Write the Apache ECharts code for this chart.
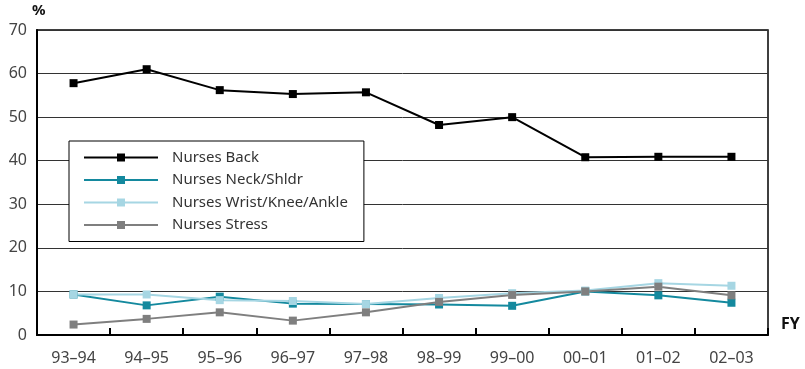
<!DOCTYPE html>
<html>
<head>
<meta charset="utf-8">
<script src="https://cdn.jsdelivr.net/npm/echarts@6/dist/echarts.min.js"></script>
<style>
  html, body { margin: 0; padding: 0; background: #fff; }
  #chart { width: 805px; height: 369px; }
</style>
</head>
<body>
<div id="chart"></div>
<script>
// Financial years on the category axis
const years = ['93–94', '94–95', '95–96', '96–97', '97–98', '98–99', '99–00', '00–01', '01–02', '02–03'];

// Percentages per injury type
const nursesBack = [57.8, 61.0, 56.2, 55.3, 55.7, 48.2, 50.0, 40.8, 40.9, 40.9];
const nursesNeckShldr = [9.3, 6.8, 8.8, 7.2, 7.1, 7.0, 6.7, 10.0, 9.1, 7.4];
const nursesWristKneeAnkle = [9.3, 9.3, 8.0, 7.8, 7.1, 8.5, 9.6, 10.2, 11.9, 11.3];
const nursesStress = [2.4, 3.7, 5.2, 3.3, 5.2, 7.6, 9.2, 10.0, 11.1, 9.1];

// Value axis ticks
const yTicks = [0, 10, 20, 30, 40, 50, 60, 70];

const FONT = '"Noto Sans", "Open Sans", sans-serif';

function lineSeries(name, data, color) {
  return {
    name: name,
    type: 'line',
    data: data,
    symbol: 'rect',
    symbolSize: 8,
    showSymbol: true,
    lineStyle: { color: color, width: 2 },
    itemStyle: { color: color },
    emphasis: { disabled: true },
    animation: false
  };
}

const chart = echarts.init(document.getElementById('chart'), null, { renderer: 'canvas' });

chart.setOption({
  animation: false,
  backgroundColor: '#fff',
  grid: {
    left: 37, right: 37, top: 30, bottom: 34,
    show: true, borderColor: '#000', borderWidth: 1.5, backgroundColor: 'transparent'
  },
  legend: {
    orient: 'vertical',
    left: 69, top: 141,
    padding: [9, 16, 9, 14],
    itemWidth: 74,
    itemHeight: 10,
    itemGap: 7.5,
    backgroundColor: '#fff',
    borderColor: '#000',
    borderWidth: 1,
    textStyle: { fontFamily: FONT, fontSize: 15, color: '#333', padding: [0, 0, 0, 9] },
    data: ['Nurses Back', 'Nurses Neck/Shldr', 'Nurses Wrist/Knee/Ankle', 'Nurses Stress']
  },
  xAxis: {
    type: 'category',
    data: years,
    boundaryGap: true,
    axisLine: { lineStyle: { color: '#000', width: 2 } },
    axisTick: { show: true, inside: true, length: 7, lineStyle: { color: '#000', width: 2 } },
    axisLabel: { fontFamily: FONT, fontSize: 16, color: '#444', margin: 15 }
  },
  yAxis: {
    type: 'value',
    min: yTicks[0],
    max: yTicks[yTicks.length - 1],
    interval: 10,
    axisLine: { show: true, lineStyle: { color: '#000', width: 2 } },
    axisTick: { show: false },
    axisLabel: { fontFamily: FONT, fontSize: 16, color: '#444', margin: 10 },
    splitLine: { lineStyle: { color: '#333', width: 1 } }
  },
  graphic: [
    { type: 'text', left: 32, top: 3, style: { text: '%', font: 'bold 15px ' + FONT, fill: '#111' } },
    { type: 'text', left: 781, top: 316, style: { text: 'FY', font: 'bold 16px ' + FONT, fill: '#111' } }
  ],
  series: [
    lineSeries('Nurses Back', nursesBack, '#000000'),
    lineSeries('Nurses Neck/Shldr', nursesNeckShldr, '#14899e'),
    lineSeries('Nurses Wrist/Knee/Ankle', nursesWristKneeAnkle, '#a6d6e3'),
    lineSeries('Nurses Stress', nursesStress, '#7f7f7f')
  ]
});
</script>
</body>
</html>
